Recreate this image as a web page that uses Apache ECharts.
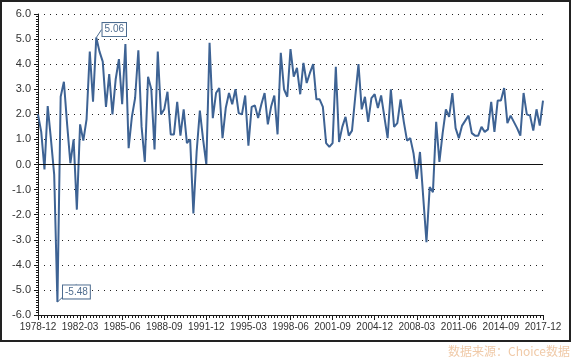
<!DOCTYPE html>
<html>
<head>
<meta charset="utf-8">
<script src="https://cdn.jsdelivr.net/npm/echarts@6/dist/echarts.min.js"></script>
<style>
html,body{margin:0;padding:0;background:#fff;}
#c{width:573px;height:358px;}
</style>
</head>
<body>
<div id="c"></div>
<script>
// Quarterly categories from 1978-12 to 2017-12
var startYear = 1978, startMonth = 12, endYear = 2017, endMonth = 12;
var categories = [];
(function(){
  var y = startYear, m = startMonth;
  while (y < endYear || (y === endYear && m <= endMonth)) {
    categories.push(y + '-' + (m < 10 ? '0' + m : '' + m));
    m += 3; if (m > 12) { m = 3; y += 1; }
  }
})();

var values = [
  2.0, 1.3, -0.2, 2.33, 1.0, -0.4, -5.48, 2.7, 3.3, 1.6,
  0.05, 1.0, -1.8, 1.6, 0.95, 1.8, 4.5, 2.5, 5.06, 4.5,
  4.1, 2.3, 3.6, 2.0, 3.4, 4.2, 2.4, 4.8, 0.65, 1.9,
  2.65, 4.55, 1.5, 0.1, 3.5, 3.0, 0.6, 4.5, 2.0, 2.2,
  2.9, 1.2, 1.2, 2.5, 1.15, 2.2, 0.85, 1.0, -1.95, 0.5,
  2.15, 1.0, 0.0, 4.85, 1.85, 2.85, 3.05, 1.05, 2.25, 2.85,
  2.4, 3.0, 2.05, 2.0, 2.75, 0.75, 2.3, 2.35, 1.85, 2.4,
  2.85, 1.6, 2.3, 2.75, 1.2, 4.45, 3.0, 2.7, 4.6, 3.5,
  3.85, 2.8, 4.05, 3.25, 3.65, 4.0, 2.6, 2.6, 2.3, 0.85,
  0.7, 0.85, 3.9, 0.9, 1.5, 1.9, 1.15, 1.35, 2.7, 4.0,
  2.2, 2.7, 1.7, 2.65, 2.8, 2.25, 2.75, 1.9, 1.05, 3.0,
  1.5, 1.65, 2.6, 1.7, 0.95, 1.05, 0.45, -0.57, 0.5, -1.3,
  -3.1, -0.9, -1.1, 1.7, 0.1, 1.25, 2.2, 1.9, 2.85, 1.45,
  1.05, 1.55, 1.75, 1.95, 1.25, 1.15, 1.15, 1.5, 1.3, 1.4,
  2.5, 1.3, 2.55, 2.55, 3.05, 1.65, 1.95, 1.7, 1.45, 1.15,
  2.85, 2.0, 1.95, 1.35, 2.2, 1.55, 2.55
];

var annotatedMax = 5.06, annotatedMin = -5.48;
var yTicks = [-6, 6, 1];
var sourceText = '数据来源：Choice数据';

var maxIndex = values.indexOf(annotatedMax);
var minIndex = values.indexOf(annotatedMin);

var seriesData = values.map(function(v, i){
  if (i === maxIndex || i === minIndex) {
    return { value: v, label: { show: true } };
  }
  return v;
});

var chart = echarts.init(document.getElementById('c'), null, {renderer: 'canvas'});
var FONT = 'Liberation Sans';
chart.setOption({
  animation: false,
  backgroundColor: '#ffffff',
  grid: { left: 38, right: 30, top: 14, bottom: 43, containLabel: false },
  xAxis: [{
    type: 'category',
    data: categories,
    boundaryGap: false,
    position: 'bottom',
    axisLine: { onZero: false, lineStyle: { color: '#1a1a1a', width: 1 } },
    axisTick: { interval: 12, length: 5, lineStyle: { color: '#1a1a1a' } },
    axisLabel: { interval: 12, color: '#333', fontFamily: FONT, fontSize: 10, margin: 7 },
    splitLine: { show: false }
  }, {
    type: 'category',
    data: categories,
    boundaryGap: false,
    position: 'bottom',
    axisLine: { show: false, onZero: false },
    axisTick: { interval: 0, length: 3, lineStyle: { color: '#1a1a1a' } },
    axisLabel: { show: false },
    splitLine: { show: false }
  }],
  yAxis: {
    type: 'value',
    min: yTicks[0], max: yTicks[1], interval: yTicks[2],
    axisLine: { show: true, lineStyle: { color: '#1a1a1a', width: 1 } },
    axisTick: { show: true, length: 4, lineStyle: { color: '#1a1a1a' } },
    minorTick: { show: true, splitNumber: 10, length: 2, lineStyle: { color: '#1a1a1a' } },
    axisLabel: {
      color: '#333', fontFamily: FONT, fontSize: 11, margin: 7,
      formatter: function(v){ return v.toFixed(1); }
    },
    splitLine: { show: true, lineStyle: { color: '#222', type: [1, 5], width: 1 } }
  },
  series: [{
    type: 'line',
    data: seriesData,
    xAxisIndex: 0,
    showSymbol: true,
    symbol: 'circle',
    symbolSize: 0,
    lineStyle: { color: '#3e6394', width: 2 },
    itemStyle: { color: '#3e6394' },
    label: {
      show: false,
      position: 'inside',
      formatter: function(p){ return p.value.toFixed(2); },
      color: '#4f6d8f',
      fontFamily: FONT,
      fontSize: 10,
      backgroundColor: '#ffffff',
      borderColor: '#4a6a8e',
      borderWidth: 1,
      padding: [2, 2, 1, 2]
    },
    labelLine: { show: true, lineStyle: { color: '#4a6a8e', width: 1 } },
    labelLayout: function(p){
      if (p.dataIndex === maxIndex) return { dx: 18, dy: -8, hideOverlap: false };
      if (p.dataIndex === minIndex) return { dx: 19, dy: -10, hideOverlap: false };
      return {};
    },
    markLine: {
      silent: true,
      symbol: 'none',
      label: { show: false },
      lineStyle: { color: '#111', type: 'solid', width: 1 },
      data: [{ yAxis: 0 }]
    }
  }],
  graphic: [{
    type: 'rect',
    shape: { x: 1, y: 1, width: 569, height: 340 },
    style: { fill: null, stroke: '#222', lineWidth: 2 },
    silent: true
  }, {
    type: 'text',
    right: 3,
    bottom: 1,
    style: { text: sourceText, fill: '#f0caa8', font: '12px "Noto Sans CJK SC"' },
    silent: true
  }]
});
</script>
</body>
</html>
